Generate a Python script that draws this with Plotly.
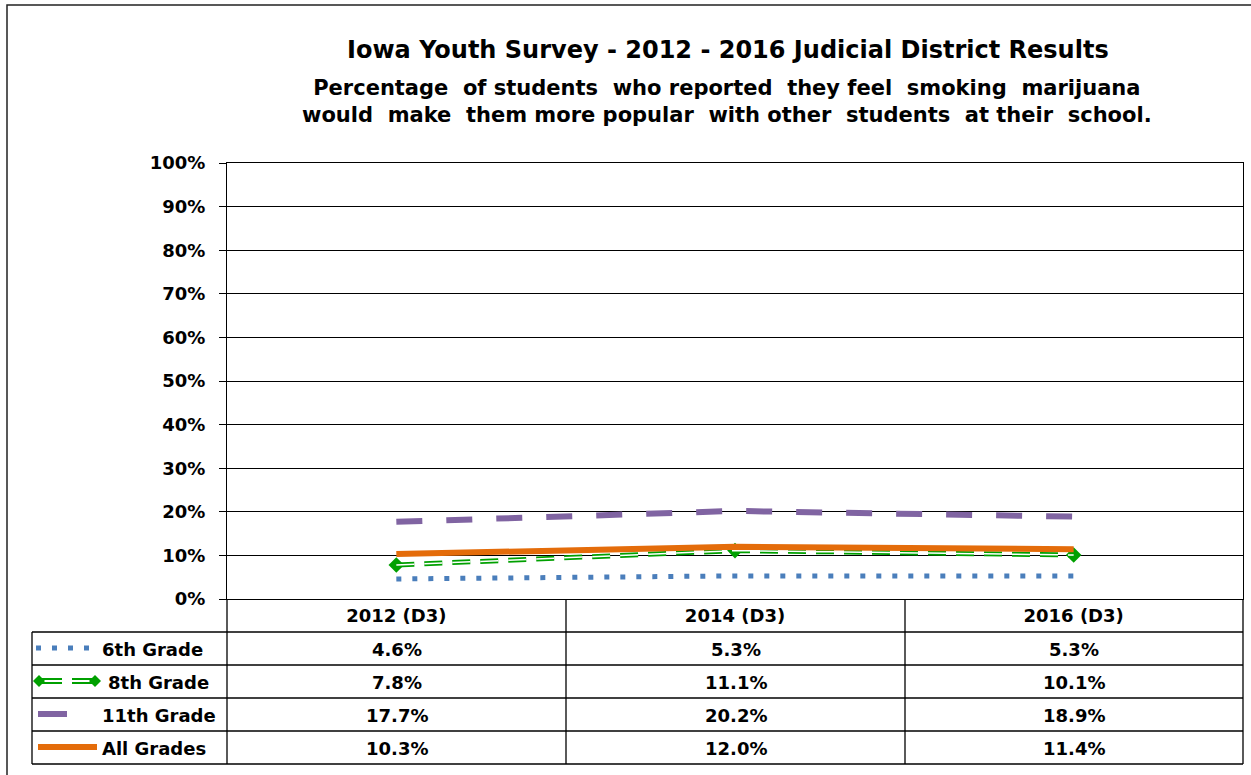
import plotly.graph_objects as go

years = ["2012 (D3)", "2014 (D3)", "2016 (D3)"]
grade6 = [4.6, 5.3, 5.3]
grade8 = [7.8, 11.1, 10.1]
grade11 = [17.7, 20.2, 18.9]
all_grades = [10.3, 12.0, 11.4]
series_names = ["6th Grade", "8th Grade", "11th Grade", "All Grades"]
y_ticks = list(range(0, 101, 10))

W, H = 1251, 775
L, R, T, B = 227, 1243, 163, 599
FONT = "DejaVu Sans, Arial, sans-serif"

def px(x):
    return (x - L) / (R - L)

def py(y):
    return (B - y) / (B - T)

fig = go.Figure()

fig.add_trace(go.Scatter(x=years, y=grade11, mode="lines", name=series_names[2],
                         line=dict(color="#8064A2", width=6, dash="26px,24px")))
fig.add_trace(go.Scatter(x=years, y=grade6, mode="lines", name=series_names[0],
                         line=dict(color="#4A7EBB", width=5, dash="5px,11px")))
fig.add_trace(go.Scatter(x=years, y=grade8, mode="lines+markers", name=series_names[1],
                         line=dict(color="#00A000", width=5, dash="18px,10px"),
                         marker=dict(symbol="diamond", size=12, color="#00A000")))
fig.add_trace(go.Scatter(x=years, y=grade8, mode="lines", name=series_names[1] + " inner",
                         line=dict(color="white", width=1.5, dash="18px,10px"),
                         hoverinfo="skip"))
fig.add_trace(go.Scatter(x=years, y=all_grades, mode="lines", name=series_names[3],
                         line=dict(color="#E46C0A", width=6)))

shapes = []
line_black = dict(color="black", width=1.3)
# outer frame
shapes.append(dict(type="rect", xref="paper", yref="paper", x0=px(7), x1=px(1265),
                   y0=py(790), y1=py(5), line=dict(color="#222", width=1.5), layer="below"))
# table horizontal lines
row_y = [632, 665, 698, 731, 764]
for yy in row_y:
    shapes.append(dict(type="line", xref="paper", yref="paper", x0=px(32), x1=px(1243),
                       y0=py(yy), y1=py(yy), line=line_black))
# table vertical lines
for xx in [227, 566, 905, 1243]:
    shapes.append(dict(type="line", xref="paper", yref="paper", x0=px(xx), x1=px(xx),
                       y0=py(599), y1=py(764), line=line_black))
shapes.append(dict(type="line", xref="paper", yref="paper", x0=px(32), x1=px(32),
                   y0=py(632), y1=py(764), line=line_black))

# legend keys inside table
key_y = [648, 681, 714, 747]
shapes.append(dict(type="line", xref="paper", yref="paper", x0=px(36), x1=px(90),
                   y0=py(key_y[0]), y1=py(key_y[0]),
                   line=dict(color="#4A7EBB", width=5, dash="5px,11px")))
# 8th grade: double line with diamonds at ends
for off in (-2, 2):
    shapes.append(dict(type="line", xref="paper", yref="paper", x0=px(40), x1=px(62),
                       y0=py(key_y[1] + off), y1=py(key_y[1] + off),
                       line=dict(color="#00A000", width=2)))
    shapes.append(dict(type="line", xref="paper", yref="paper", x0=px(72), x1=px(94),
                       y0=py(key_y[1] + off), y1=py(key_y[1] + off),
                       line=dict(color="#00A000", width=2)))
for cx in (39, 95):
    d = 6
    path = "M {} {} L {} {} L {} {} L {} {} Z".format(
        px(cx - d), py(key_y[1]), px(cx), py(key_y[1] - d),
        px(cx + d), py(key_y[1]), px(cx), py(key_y[1] + d))
    shapes.append(dict(type="path", xref="paper", yref="paper", path=path,
                       fillcolor="#00A000", line=dict(color="#00A000", width=0)))
shapes.append(dict(type="line", xref="paper", yref="paper", x0=px(38), x1=px(67),
                   y0=py(key_y[2]), y1=py(key_y[2]),
                   line=dict(color="#8064A2", width=6)))
shapes.append(dict(type="line", xref="paper", yref="paper", x0=px(38), x1=px(97),
                   y0=py(key_y[3]), y1=py(key_y[3]),
                   line=dict(color="#E46C0A", width=6)))

annotations = []
label_x = [100, 106, 100, 100]
all_series = [grade6, grade8, grade11, all_grades]
col_x = [397, 736, 1074]
for i, name in enumerate(series_names):
    annotations.append(dict(xref="paper", yref="paper", x=px(label_x[i]), y=py(key_y[i] + 1),
                            text="<b>" + name + "</b>", showarrow=False, xanchor="left",
                            yanchor="middle", font=dict(family=FONT, size=18, color="black")))
    for j, v in enumerate(all_series[i]):
        annotations.append(dict(xref="paper", yref="paper", x=px(col_x[j]), y=py(key_y[i] + 1),
                                text="<b>{:.1f}%</b>".format(v), showarrow=False,
                                xanchor="center", yanchor="middle",
                                font=dict(family=FONT, size=18, color="black")))

# titles
annotations.append(dict(xref="paper", yref="paper", x=px(728), y=py(50),
                        text="<b>Iowa Youth Survey - 2012 - 2016 Judicial District Results</b>",
                        showarrow=False, xanchor="center", yanchor="middle",
                        font=dict(family=FONT, size=24, color="black")))
annotations.append(dict(xref="paper", yref="paper", x=px(727), y=py(101),
                        text="<b>Percentage  of students  who reported  they feel  smoking  marijuana</b><br>"
                             "<b>would  make  them more popular  with other  students  at their  school.</b>",
                        showarrow=False, xanchor="center", yanchor="middle",
                        font=dict(family=FONT, size=21, color="black")))

fig.update_layout(
    width=W, height=H,
    margin=dict(l=L, r=W - R, t=T, b=H - B),
    paper_bgcolor="white", plot_bgcolor="white",
    showlegend=False,
    shapes=shapes, annotations=annotations,
    font=dict(family=FONT, color="black"),
)
fig.update_xaxes(type="category", range=[-0.5, 2.5], showgrid=False,
                 showline=True, linecolor="black", linewidth=1.3, mirror=True,
                 ticks="", tickfont=dict(family=FONT, size=18, color="black"),
                 ticklabelstandoff=0, tickprefix="<b>", ticksuffix="</b>")
fig.update_yaxes(range=[0, 100], tickvals=y_ticks,
                 ticktext=["<b>{}%</b>".format(v) for v in y_ticks],
                 showgrid=True, gridcolor="black", gridwidth=1.3,
                 showline=True, linecolor="black", linewidth=1.3, mirror=True,
                 ticks="outside", ticklen=7, tickcolor="black",
                 tickfont=dict(family=FONT, size=18, color="black"),
                 ticklabelstandoff=10, zeroline=False)

fig.write_html("out.html", config={"displayModeBar": False},
               post_script="document.body.style.margin='0';")
